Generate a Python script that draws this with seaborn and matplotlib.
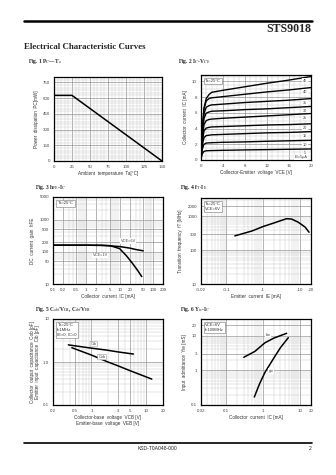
import numpy as np
import pandas as pd
import matplotlib
matplotlib.use("Agg")
import matplotlib.pyplot as plt
import seaborn as sns
from matplotlib.ticker import MultipleLocator, FixedLocator, NullFormatter, FuncFormatter, LogLocator

# ---------------- data ----------------
# Fig 1  Pc - Ta
ta = [0, 25, 150]
pc = [625, 625, 0]

# Fig 2  Ic - Vce
vce = [0, 0.3, 0.6, 1.0, 1.5, 2, 4, 8, 12, 16, 20]
ic_curves = [
    [0, 4.0, 6.6, 7.8, 8.3, 8.6, 8.85, 9.3, 9.75, 10.15, 10.6],
    [0, 3.8, 6.5, 7.5, 7.8, 7.9, 8.05, 8.35, 8.65, 8.9, 9.2],
    [0, 3.5, 5.9, 6.7, 6.9, 7.0, 7.1, 7.3, 7.45, 7.6, 7.8],
    [0, 3.2, 5.3, 5.95, 6.1, 6.2, 6.25, 6.4, 6.5, 6.65, 6.8],
    [0, 2.8, 4.5, 5.0, 5.15, 5.2, 5.3, 5.45, 5.6, 5.75, 5.9],
    [0, 2.3, 3.7, 4.05, 4.15, 4.2, 4.25, 4.35, 4.45, 4.5, 4.6],
    [0, 1.9, 2.85, 3.1, 3.15, 3.2, 3.25, 3.35, 3.45, 3.5, 3.6],
    [0, 1.4, 2.0, 2.15, 2.18, 2.2, 2.25, 2.3, 2.38, 2.44, 2.5],
    [0, 0.8, 1.1, 1.17, 1.19, 1.2, 1.23, 1.28, 1.32, 1.36, 1.4],
]
ib_labels = ["45", "40", "35", "30", "25", "20", "15", "10", "5"]

# Fig 3  hFE - Ic
hfe_ic_a = [0.1, 0.3, 1, 3, 10, 20, 30, 51]
hfe_a = [160, 160, 160, 158, 145, 130, 118, 107]
hfe_ic_b = [0.1, 0.3, 1, 3, 5.2, 10, 16, 25, 35, 46]
hfe_b = [160, 160, 160, 158, 155, 125, 75, 42, 26, 17]

# Fig 4  fT - IE
ft_ie = [0.17, 0.5, 1, 2, 3, 4.4, 6, 9, 14, 18]
ft = [265, 370, 500, 640, 745, 855, 835, 680, 486, 340]

# Fig 5  Cob/Cib
cib_v = [0.38, 1, 2, 3, 5.8]
cib = [2.5, 2.1, 1.87, 1.72, 1.53]
cob_v = [0.44, 1, 2, 3, 5, 8, 12.5]
cob = [2.15, 1.45, 1.0, 0.82, 0.63, 0.5, 0.40]

# Fig 6  Yie - Ic
bie_ic = [0.3, 0.6, 1.13, 2, 4.4]
bie = [2.37, 3.5, 6.2, 8.5, 11.6]
gie_ic = [0.58, 0.8, 1.13, 2.1, 3, 4.9]
gie = [0.17, 0.4, 0.87, 2.5, 4.5, 8.7]

# ---------------- style ----------------
sns.set_style("white")
plt.rcParams['font.family'] = ['Liberation Sans', 'DejaVu Sans']
plt.rcParams['mathtext.fontset'] = 'stix'

W, H = 336, 475
fig = plt.figure(figsize=(W / 100, H / 100), dpi=100)

def rect(l, t, r, b):
    return [l / W, 1 - b / H, (r - l) / W, (b - t) / H]

TS = 3.2   # tick label size
LS = 3.3   # axis label size

def style(ax, logx=False, logy=False):
    for s in ax.spines.values():
        s.set_linewidth(0.9)
        s.set_color('black')
    ax.grid(True, which='major', color='#8a8a8a', lw=0.45)
    ax.grid(True, which='minor', color='#c4c4c4', lw=0.3)
    ax.tick_params(which='major', labelsize=TS, length=1.2, width=0.4, pad=1.5, colors='#444')
    ax.tick_params(which='minor', length=0)
    if logx:
        ax.xaxis.set_minor_locator(LogLocator(base=10, subs=np.arange(2, 10)))
        ax.xaxis.set_minor_formatter(NullFormatter())
    if logy:
        ax.yaxis.set_minor_locator(LogLocator(base=10, subs=np.arange(2, 10)))
        ax.yaxis.set_minor_formatter(NullFormatter())

def numfmt(v, pos=None):
    if v >= 1:
        return f"{v:g}"
    return f"{v:g}"

LW = 1.1
box = dict(boxstyle='square,pad=0.3', fc='white', ec='#777', lw=0.4)

# ---------------- header ----------------
fig.add_artist(plt.Line2D([24 / W, 312 / W], [1 - 21 / H] * 2, color='black', lw=1.8))
fig.text(311 / W, 1 - 29 / H, "STS9018", ha='right', va='center', fontsize=8.6,
         fontweight='bold', family='Liberation Serif')
fig.text(24 / W, 1 - 47 / H, "Electrical Characteristic Curves", ha='left', va='center',
         fontsize=6.4, fontweight='bold', family='Liberation Serif')

tkw = dict(ha='left', va='center', fontsize=4.0, fontweight='bold', family='Liberation Serif')
fig.text(28 / W, 1 - 62 / H, r"Fig. 1 P$_\mathrm{C}$—T$_\mathrm{a}$", **tkw)
fig.text(178 / W, 1 - 62 / H, r"Fig. 2 I$_\mathrm{C}$-V$_\mathrm{CE}$", **tkw)
fig.text(35 / W, 1 - 187 / H, r"Fig. 3 h$_\mathrm{FE}$-I$_\mathrm{C}$", **tkw)
fig.text(180 / W, 1 - 187 / H, r"Fig. 4 f$_\mathrm{T}$-I$_\mathrm{E}$", **tkw)
fig.text(35 / W, 1 - 309 / H, r"Fig. 5 C$_\mathrm{ob}$/V$_\mathrm{CB}$, C$_\mathrm{ib}$/V$_\mathrm{EB}$", **tkw)
fig.text(180 / W, 1 - 309 / H, r"Fig. 6 Y$_\mathrm{ie}$-I$_\mathrm{C}$", **tkw)

# ---------------- Fig 1 ----------------
ax1 = fig.add_axes(rect(54, 77, 162, 161))
sns.lineplot(x=ta, y=pc, ax=ax1, color='black', lw=LW)
ax1.set_xlim(0, 150)
ax1.set_ylim(0, 800)
ax1.set_xticks([0, 25, 50, 75, 100, 125, 150])
ax1.set_yticks([0, 150, 300, 450, 600, 750])
ax1.xaxis.set_minor_locator(MultipleLocator(5))
ax1.yaxis.set_minor_locator(MultipleLocator(25))
style(ax1)
ax1.set_xlabel("Ambient  temperature  Ta[°C]", fontsize=LS, labelpad=1.5, color='#333')
ax1.set_ylabel("Power  dissipation  PC[mW]", fontsize=LS, labelpad=3, color='#333')

# ---------------- Fig 2 ----------------
ax2 = fig.add_axes(rect(200.7, 75, 310.7, 160))
for ys, lab in zip(ic_curves, ib_labels):
    sns.lineplot(x=vce, y=ys, ax=ax2, color='black', lw=LW * 0.9)
    ax2.text(19.0, ys[-1] - 0.55, lab, fontsize=2.8, ha='center', va='center', color='#444',
             bbox=dict(boxstyle='square,pad=0.15', fc='white', ec='none'))
ax2.text(18.3, 0.35, "IB=5μA", fontsize=2.8, ha='center', va='center', color='#444',
         bbox=dict(boxstyle='square,pad=0.15', fc='white', ec='none'))
ax2.set_xlim(0, 20)
ax2.set_ylim(0, 10.8)
ax2.set_xticks([0, 4, 8, 12, 16, 20])
ax2.set_yticks([0, 2, 4, 6, 8, 10])
ax2.xaxis.set_minor_locator(MultipleLocator(1))
ax2.yaxis.set_minor_locator(MultipleLocator(0.5))
style(ax2)
ax2.text(0.04, 0.95, "Ta=25°C", transform=ax2.transAxes, fontsize=3, va='top', ha='left',
         color='#333', bbox=box)
ax2.set_xlabel("Collector-Emitter  voltage  VCE [V]", fontsize=LS, labelpad=1.5, color='#333')
ax2.set_ylabel("Collector  current  IC [mA]", fontsize=LS, labelpad=3, color='#333')

# ---------------- Fig 3 ----------------
ax3 = fig.add_axes(rect(53, 197, 163, 284))
sns.lineplot(x=hfe_ic_a, y=hfe_a, ax=ax3, color='black', lw=LW)
sns.lineplot(x=hfe_ic_b, y=hfe_b, ax=ax3, color='black', lw=LW)
ax3.set_xscale('log')
ax3.set_yscale('log')
ax3.set_xlim(0.1, 200)
ax3.set_ylim(10, 5000)
ax3.xaxis.set_major_locator(FixedLocator([0.1, 0.2, 0.5, 1, 2, 5, 10, 20, 50, 100, 200]))
ax3.yaxis.set_major_locator(FixedLocator([10, 50, 100, 200, 500, 1000, 5000]))
ax3.xaxis.set_major_formatter(FuncFormatter(numfmt))
ax3.yaxis.set_major_formatter(FuncFormatter(numfmt))
style(ax3, True, True)
ax3.text(0.04, 0.95, "Ta=25°C", transform=ax3.transAxes, fontsize=3, va='top', ha='left',
         color='#333', bbox=box)
ax3.text(18, 215, "VCE=6V", fontsize=2.8, ha='center', va='center', color='#444',
         bbox=dict(boxstyle='square,pad=0.15', fc='white', ec='none'))
ax3.text(2.6, 78, "VCE=1V", fontsize=2.8, ha='center', va='center', color='#444',
         bbox=dict(boxstyle='square,pad=0.15', fc='white', ec='none'))
ax3.set_xlabel("Collector  current  IC [mA]", fontsize=LS, labelpad=1.5, color='#333')
ax3.set_ylabel("DC  current  gain  hFE", fontsize=LS, labelpad=3, color='#333')

# ---------------- Fig 4 ----------------
ax4 = fig.add_axes(rect(200.7, 198, 310.7, 284))
sns.lineplot(x=ft_ie, y=ft, ax=ax4, color='black', lw=LW)
ax4.set_xscale('log')
ax4.set_yscale('log')
ax4.set_xlim(0.02, 20)
ax4.set_ylim(10, 3500)
ax4.xaxis.set_major_locator(FixedLocator([0.02, 0.1, 1, 10, 20]))
ax4.yaxis.set_major_locator(FixedLocator([10, 100, 300, 1000, 2000]))
ax4.xaxis.set_major_formatter(FuncFormatter(lambda v, p: "-" + f"{v:g}"))
ax4.yaxis.set_major_formatter(FuncFormatter(numfmt))
style(ax4, True, True)
ax4.text(0.04, 0.95, "Ta=25°C\nVCE=6V", transform=ax4.transAxes, fontsize=3, va='top',
         ha='left', color='#333', bbox=box, linespacing=1.2)
ax4.set_xlabel("Emitter  current  IE [mA]", fontsize=LS, labelpad=1.5, color='#333')
ax4.set_ylabel("Transition  frequency  fT [MHz]", fontsize=LS, labelpad=3, color='#333')

# ---------------- Fig 5 ----------------
ax5 = fig.add_axes(rect(53, 319, 163, 405))
sns.lineplot(x=cib_v, y=cib, ax=ax5, color='black', lw=LW)
sns.lineplot(x=cob_v, y=cob, ax=ax5, color='black', lw=LW)
ax5.set_xscale('log')
ax5.set_yscale('log')
ax5.set_xlim(0.2, 20)
ax5.set_ylim(0.1, 10)
ax5.xaxis.set_major_locator(FixedLocator([0.2, 0.5, 1, 3, 5, 10, 20]))
ax5.yaxis.set_major_locator(FixedLocator([0.1, 1, 10]))
ax5.xaxis.set_major_formatter(FuncFormatter(numfmt))
ax5.yaxis.set_major_formatter(FuncFormatter(lambda v, p: {0.1: "0.1", 1: "1.0", 10: "10"}.get(round(v, 3), f"{v:g}")))
style(ax5, True, True)
ax5.text(0.04, 0.95, "Ta=25°C\nf=1MHz\nIE=0, IC=0", transform=ax5.transAxes, fontsize=3,
         va='top', ha='left', color='#333', bbox=box, linespacing=1.2)
ax5.text(1.1, 2.6, "Cib", fontsize=2.8, ha='center', va='center', color='#444',
         bbox=dict(boxstyle='round,pad=0.2', fc='white', ec='#777', lw=0.3))
ax5.text(1.55, 1.3, "Cob", fontsize=2.8, ha='center', va='center', color='#444',
         bbox=dict(boxstyle='round,pad=0.2', fc='white', ec='#777', lw=0.3))
ax5.set_xlabel("Collector-base  voltage  VCB [V]\nEmitter-base  voltage  VEB [V]",
               fontsize=LS, labelpad=1.5, color='#333', linespacing=1.2)
ax5.set_ylabel("Collector  output  capacitance  Cob [pF]\nEmitter  input  capacitance  Cib [pF]",
               fontsize=LS, labelpad=2, color='#333', linespacing=1.2)

# ---------------- Fig 6 ----------------
ax6 = fig.add_axes(rect(200.7, 319, 310.7, 405))
sns.lineplot(x=bie_ic, y=bie, ax=ax6, color='black', lw=LW)
sns.lineplot(x=gie_ic, y=gie, ax=ax6, color='black', lw=LW)
ax6.set_xscale('log')
ax6.set_yscale('log')
ax6.set_xlim(0.02, 20)
ax6.set_ylim(0.1, 30)
ax6.xaxis.set_major_locator(FixedLocator([0.02, 0.1, 1, 10, 20]))
ax6.yaxis.set_major_locator(FixedLocator([0.1, 1, 3, 10, 20]))
ax6.xaxis.set_major_formatter(FuncFormatter(numfmt))
ax6.yaxis.set_major_formatter(FuncFormatter(numfmt))
style(ax6, True, True)
ax6.text(0.04, 0.95, "VCE=6V\nf=100MHz", transform=ax6.transAxes, fontsize=3, va='top',
         ha='left', color='#333', bbox=box, linespacing=1.2)
ax6.text(1.4, 10.5, "bie", fontsize=2.8, ha='center', va='center', color='#444',
         bbox=dict(boxstyle='square,pad=0.15', fc='white', ec='none'))
ax6.text(1.65, 0.95, "gie", fontsize=2.8, ha='center', va='center', color='#444',
         bbox=dict(boxstyle='square,pad=0.15', fc='white', ec='none'))
ax6.set_xlabel("Collector  current  IC [mA]", fontsize=LS, labelpad=1.5, color='#333')
ax6.set_ylabel("Input  admittance  Yie [mS]", fontsize=LS, labelpad=3, color='#333')

# ---------------- footer ----------------
fig.add_artist(plt.Line2D([24 / W, 312 / W], [1 - 443 / H] * 2, color='black', lw=1.2))
fig.text(158 / W, 1 - 448.5 / H, "KSD-T0A048-000", ha='center', va='center', fontsize=3.6,
         color='#222')
fig.text(310 / W, 1 - 448.5 / H, "2", ha='center', va='center', fontsize=3.6, color='#222')

fig.savefig("out.png", dpi=100)
